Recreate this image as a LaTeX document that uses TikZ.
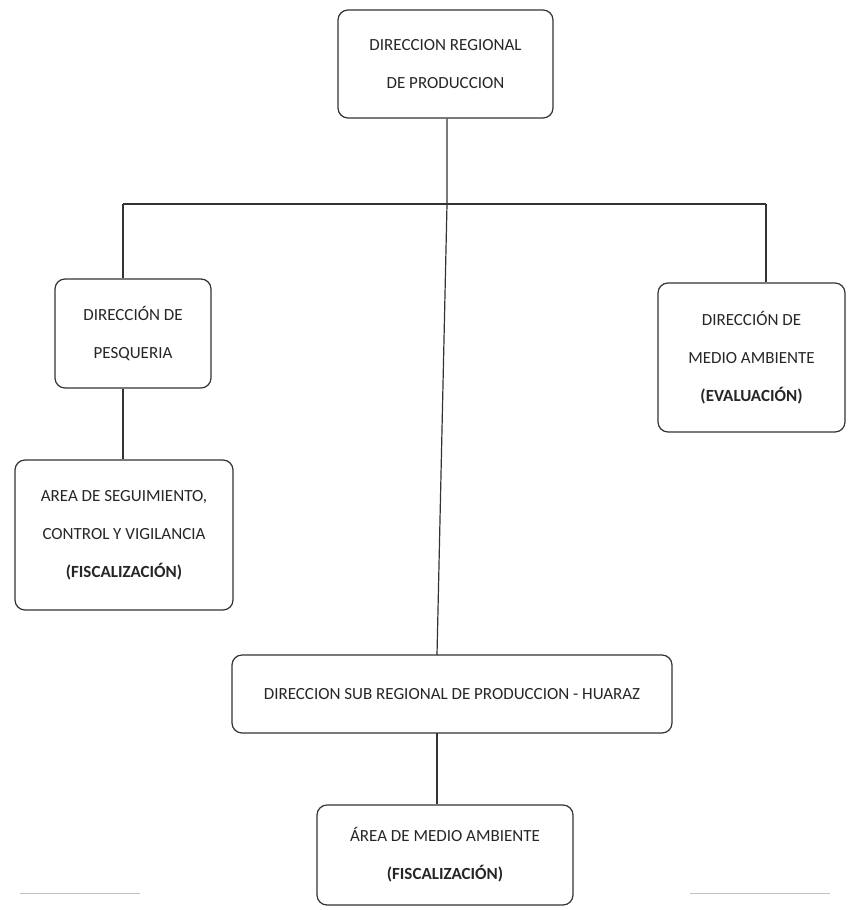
\documentclass[tikz,border=0pt]{standalone}
\usepackage{fontspec}
\setmainfont{Carlito}
\begin{document}
\begin{tikzpicture}[x=1pt,y=-1pt,
  orgbox/.style={draw=black!80, line width=1.2pt, rounded corners=10pt, align=center,
    inner sep=0pt, text=black!85, font=\fontsize{17}{38}\selectfont},
  link/.style={draw=black!80, line width=1.2pt}]
\useasboundingbox (0,0) rectangle (848,910);
\fill[white] (0,0) rectangle (848,910);

\node[orgbox, minimum width=215pt, minimum height=108pt] (top) at (445.5,64)
  {DIRECCION REGIONAL\\DE PRODUCCION};
\node[orgbox, minimum width=156pt, minimum height=109pt] (pes) at (133,333.5)
  {DIRECCIÓN DE\\PESQUERIA};
\node[orgbox, minimum width=218pt, minimum height=150pt] (area) at (124,535)
  {AREA DE SEGUIMIENTO,\\CONTROL Y VIGILANCIA\\\textbf{(FISCALIZACIÓN)}};
\node[orgbox, minimum width=187pt, minimum height=149pt] (med) at (751.5,357.5)
  {DIRECCIÓN DE\\MEDIO AMBIENTE\\\textbf{(EVALUACIÓN)}};
\node[orgbox, minimum width=440pt, minimum height=78pt] (sub) at (452,694)
  {DIRECCION SUB REGIONAL DE PRODUCCION - HUARAZ};
\node[orgbox, minimum width=256pt, minimum height=100pt] (amb) at (445,855)
  {ÁREA DE MEDIO AMBIENTE\\\textbf{(FISCALIZACIÓN)}};

\coordinate (j) at (447,204);
\coordinate (lj) at (123,204);
\coordinate (rj) at (766,204);
\coordinate (sj) at (437,655);
\coordinate (bj) at (437,733);

\draw[link] (top.south -| j) -- (j) -- (sj);
\draw[link] (lj) -- (rj);
\draw[link] (lj) -- (pes.north -| lj);
\draw[link] (rj) -- (med.north -| rj);
\draw[link] (pes.south -| lj) -- (area.north -| lj);
\draw[link] (bj) -- (amb.north -| bj);

\draw[black!25, line width=0.8pt] (20,893) -- (140,893);
\draw[black!25, line width=0.8pt] (690,893) -- (830,893);
\end{tikzpicture}
\end{document}
